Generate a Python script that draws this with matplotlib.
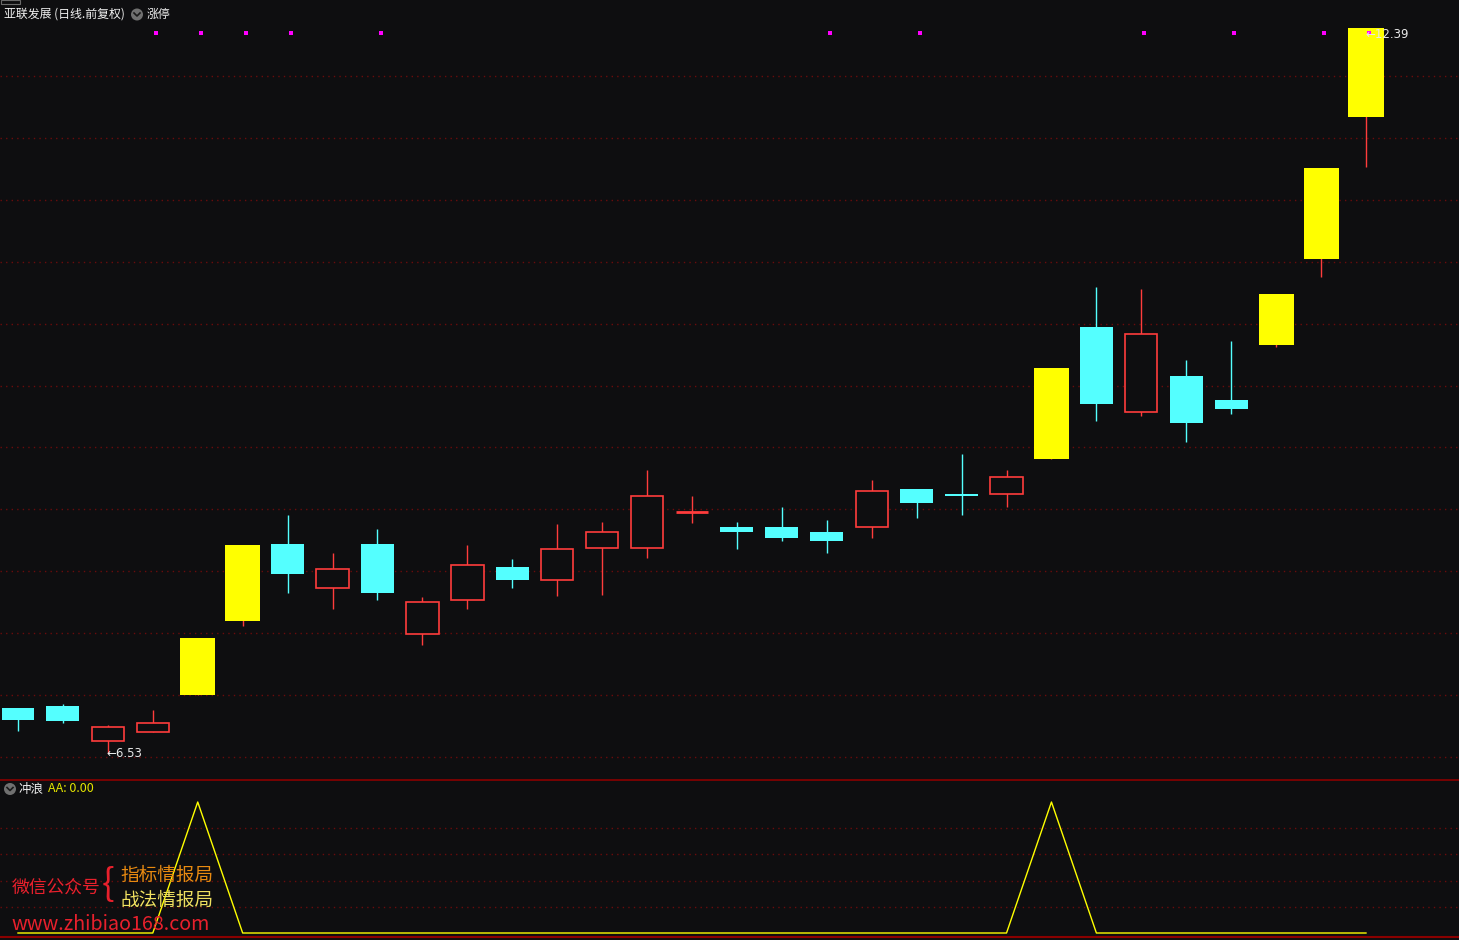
import matplotlib
matplotlib.use("Agg")
import matplotlib.pyplot as plt
from matplotlib.patches import Ellipse, Rectangle
from matplotlib.lines import Line2D
import numpy as np

plt.rcParams['font.family'] = ['Noto Sans CJK SC', 'DejaVu Sans']

# daily candles, 前复权 prices
opens = [6.89, 6.91, 6.63, 6.70, 7.00, 7.60, 8.22, 7.86, 8.22, 7.49,
         7.77, 8.03, 7.93, 8.19, 8.19, 8.48, 8.36, 8.36, 8.32, 8.36,
         8.66, 8.62, 8.62, 8.91, 9.97, 9.29, 9.58, 9.38, 9.83, 10.52, 11.67]
closes = [6.80, 6.79, 6.74, 6.77, 7.46, 8.21, 7.98, 8.02, 7.82, 7.75,
          8.05, 7.93, 8.18, 8.32, 8.61, 8.48, 8.32, 8.27, 8.24, 8.65,
          8.55, 8.61, 8.76, 9.64, 9.35, 9.92, 9.20, 9.31, 10.24, 11.26, 12.39]
highs = [6.89, 6.93, 6.76, 6.88, 7.46, 8.21, 8.45, 8.15, 8.34, 7.79,
         8.21, 8.10, 8.38, 8.40, 8.82, 8.61, 8.40, 8.52, 8.41, 8.74,
         8.66, 8.95, 8.82, 9.64, 10.30, 10.28, 9.71, 9.86, 10.24, 11.26, 12.39]
lows = [6.71, 6.77, 6.53, 6.70, 7.00, 7.56, 7.82, 7.69, 7.77, 7.40,
        7.69, 7.86, 7.80, 7.81, 8.11, 8.39, 8.18, 8.24, 8.15, 8.27,
        8.43, 8.45, 8.52, 8.91, 9.21, 9.25, 9.04, 9.27, 9.81, 10.38, 11.27]
limit_up = [4, 5, 23, 28, 29, 30]          # 涨停 candles drawn in yellow
zt_marks = [3, 4, 5, 6, 8, 18, 20, 25, 27, 29, 30]   # 涨停 indicator dots
aa = [0, 0, 0, 0, 1, 0, 0, 0, 0, 0, 0, 0, 0, 0, 0, 0,
      0, 0, 0, 0, 0, 0, 0, 1, 0, 0, 0, 0, 0, 0, 0]    # 冲浪 AA
price_grid = [6.5, 7.0, 7.5, 8.0, 8.5, 9.0, 9.5, 10.0, 10.5, 11.0, 11.5, 12.0]
aa_grid = [0.2, 0.4, 0.6, 0.8]

BG = "#0e0e10"
RED = "#ff3c3c"
CYAN = "#54ffff"
YELLOW = "#ffff00"
GRID = "#6a0c0c"
W, H = 1459, 940


def fx(x):
    return x / W


def fy(y):
    return 1 - y / H


fig = plt.figure(figsize=(W / 100, H / 100), dpi=100, facecolor=BG)

# price panel: pixel rows 0..779
ax = fig.add_axes([0, fy(779), 1, fy(0) - fy(779)], facecolor=BG)
# indicator panel: rows 780..937
ax2 = fig.add_axes([0, fy(937), 1, fy(780) - fy(937)], facecolor=BG)

n = len(opens)
x = np.arange(n)
for a in (ax, ax2):
    a.set_xlim(-0.4006, 32.07)
    a.set_xticks([])
    a.set_yticks([])
    for s in a.spines.values():
        s.set_visible(False)
ax.set_ylim(6.320, 12.616)
ax2.set_ylim(-0.0305, 1.168)

for g in price_grid:
    ax.axhline(g, color=GRID, lw=1, ls=(0, (1, 3)), zorder=0)
for g in aa_grid:
    ax2.axhline(g, color=GRID, lw=1, ls=(0, (1, 3)), zorder=0)

for i in range(n):
    o, c, h, l = opens[i], closes[i], highs[i], lows[i]
    if i in limit_up:
        ax.vlines(i, l, h, color=RED, lw=1, zorder=1)
        ax.bar(i, c - o, bottom=o, width=0.78, color=YELLOW, lw=0, zorder=2)
        continue
    col = RED if c >= o else CYAN
    ax.vlines(i, l, h, color=col, lw=1, zorder=1)
    if abs(c - o) < 0.005:
        ax.hlines(o, i - 0.367, i + 0.367, color=col, lw=2, zorder=2)
    elif c > o:
        ax.bar(i, c - o, bottom=o, width=0.72, facecolor=BG, edgecolor=RED,
               lw=1.2, zorder=2)
    else:
        ax.bar(i, o - c, bottom=c, width=0.734, color=CYAN, lw=0, zorder=2)

# 涨停 dots along the top
ax.scatter(np.array(zt_marks) + 0.07, [12.35] * len(zt_marks), marker='s',
           s=5, color="#ff00ff", lw=0, zorder=3)

# max / min labels
imax = int(np.argmax(highs))
imin = int(np.argmin(lows))
ax.text(imax - 0.02, highs[imax] - 0.05, "←12.39", color="#e8e8e8",
        fontsize=8.5, va="center", ha="left", family=['DejaVu Sans'], zorder=4)
ax.text(imin - 0.02, lows[imin], "←6.53", color="#e8e8e8",
        fontsize=8.5, va="center", ha="left", family=['DejaVu Sans'])

# AA line
ax2.plot(x, aa, color=YELLOW, lw=1, zorder=2)

# panel separators
fig.add_artist(Line2D([0, 1], [fy(779.5), fy(779.5)], transform=fig.transFigure,
                      color="#8a0000", lw=1.2))
fig.add_artist(Line2D([0, 1], [fy(937), fy(937)], transform=fig.transFigure,
                      color="#8a0000", lw=1.5))
fig.add_artist(Rectangle((fx(1), fy(4)), fx(19), fy(0) - fy(4),
                         transform=fig.transFigure, fill=False,
                         edgecolor="#6a6a6a", lw=0.8))


def icon(cx, cy):
    fig.add_artist(Ellipse((fx(cx), fy(cy)), fx(12), 12 / H,
                           transform=fig.transFigure, color="#707070", lw=0))
    fig.add_artist(Line2D([fx(cx - 3), fx(cx), fx(cx + 3)],
                          [fy(cy - 1.5), fy(cy + 1.5), fy(cy - 1.5)],
                          transform=fig.transFigure, color="#1a1a1a", lw=1.2))


# headers
fig.text(fx(4), fy(14.5), "亚联发展 (日线.前复权)", color="#f0f0f0",
         fontsize=8.6, va="center", ha="left")
icon(137, 14.5)
fig.text(fx(147), fy(14.5), "涨停", color="#f0f0f0", fontsize=8.6,
         va="center", ha="left")

icon(10, 789)
fig.text(fx(19), fy(789), "冲浪", color="#f0f0f0", fontsize=9,
         va="center", ha="left")
fig.text(fx(48), fy(789), "AA: 0.00", color="#e6e600", fontsize=9,
         va="center", ha="left")

# watermark
fig.text(fx(12), fy(887.5), "微信公众号", color="#e8202c", fontsize=12.8,
         va="center", ha="left")
fig.text(fx(102), fy(886), "{", color="#e8202c", fontsize=27,
         va="center", ha="left", fontweight="light")
fig.text(fx(120), fy(875.5), "指标情报局", color="#e88a10", fontsize=13.4,
         va="center", ha="left")
fig.text(fx(120), fy(900.5), "战法情报局", color="#f0e060", fontsize=13.4,
         va="center", ha="left")
fig.text(fx(11), fy(925), "www.zhibiao168.com", color="#e8202c",
         fontsize=14.2, va="center", ha="left")

fig.savefig("out.png", dpi=100, facecolor=BG)
